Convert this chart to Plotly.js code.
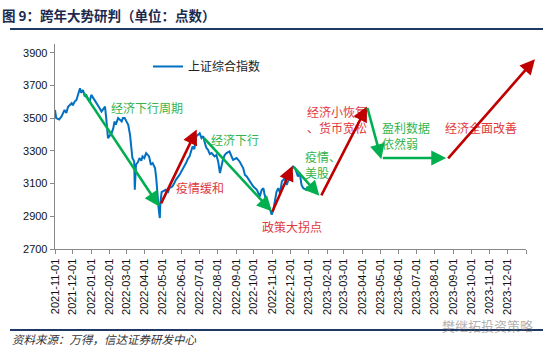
<!DOCTYPE html>
<html>
<head>
<meta charset="utf-8">
<script src="https://cdn.plot.ly/plotly-3.0.1.min.js"></script>
<style>html,body{margin:0;padding:0;background:#fff;}#chart{width:550px;height:350px;}</style>
</head>
<body>
<div id="chart"></div>
<script>
// ---- data ----
const dates = ["2021-11-01","2021-11-03","2021-11-08","2021-11-12","2021-11-17","2021-11-20","2021-11-23","2021-11-29","2021-12-01","2021-12-04","2021-12-07","2021-12-09","2021-12-13","2021-12-15","2021-12-18","2021-12-21","2021-12-23","2021-12-26","2021-12-29","2022-01-01","2022-01-04","2022-01-07","2022-01-10","2022-01-12","2022-01-15","2022-01-18","2022-01-24","2022-01-26","2022-01-29","2022-02-04","2022-02-07","2022-02-09","2022-02-11","2022-02-15","2022-02-18","2022-02-21","2022-02-23","2022-02-26","2022-03-01","2022-03-04","2022-03-07","2022-03-09","2022-03-11","2022-03-14","2022-03-15","2022-03-17","2022-03-20","2022-03-23","2022-03-26","2022-03-28","2022-03-31","2022-04-03","2022-04-06","2022-04-08","2022-04-11","2022-04-14","2022-04-18","2022-04-20","2022-04-24","2022-04-26","2022-04-27","2022-04-29","2022-05-06","2022-05-10","2022-05-12","2022-05-17","2022-05-20","2022-05-23","2022-05-29","2022-06-03","2022-06-06","2022-06-09","2022-06-12","2022-06-15","2022-06-20","2022-06-23","2022-06-26","2022-07-02","2022-07-05","2022-07-08","2022-07-10","2022-07-13","2022-07-16","2022-07-19","2022-07-22","2022-07-27","2022-07-30","2022-08-02","2022-08-05","2022-08-08","2022-08-10","2022-08-13","2022-08-16","2022-08-21","2022-08-24","2022-08-27","2022-09-02","2022-09-07","2022-09-13","2022-09-16","2022-09-19","2022-09-24","2022-09-30","2022-10-06","2022-10-11","2022-10-14","2022-10-17","2022-10-19","2022-10-22","2022-10-25","2022-10-28","2022-10-31","2022-11-03","2022-11-05","2022-11-08","2022-11-11","2022-11-14","2022-11-17","2022-11-22","2022-11-25","2022-11-28","2022-12-01","2022-12-06","2022-12-09","2022-12-14","2022-12-17","2022-12-20","2022-12-23","2022-12-28","2022-12-30"];
const sseIndex = [3550,3500,3492,3510,3550,3532,3570,3591,3578,3601,3611,3640,3683,3655,3672,3632,3645,3622,3600,3642,3625,3611,3595,3581,3560,3540,3570,3500,3378,3408,3440,3479,3460,3500,3490,3479,3500,3500,3480,3459,3398,3317,3256,3235,3062,3215,3230,3256,3240,3266,3255,3286,3272,3266,3215,3225,3195,3133,2950,2889,2981,3047,3062,3050,3072,3082,3100,3123,3153,3184,3200,3225,3250,3266,3326,3310,3388,3408,3378,3390,3357,3320,3306,3280,3286,3266,3275,3235,3164,3220,3245,3275,3286,3296,3270,3245,3256,3235,3195,3153,3143,3113,3082,3062,3021,3060,3072,3031,2991,2975,2940,2909,2945,2981,3050,3072,3042,3113,3133,3092,3120,3174,3204,3195,3143,3165,3092,3072,3062,3082];

const tickDates = ["2021-11-01","2021-12-01","2022-01-01","2022-02-01","2022-03-01","2022-04-01","2022-05-01","2022-06-01","2022-07-01","2022-08-01","2022-09-01","2022-10-01","2022-11-01","2022-12-01","2023-01-01","2023-02-01","2023-03-01","2023-04-01","2023-05-01","2023-06-01","2023-07-01","2023-08-01","2023-09-01","2023-10-01","2023-11-01","2023-12-01"];
const yTicks = [2700,2900,3100,3300,3500,3700,3900];

// arrows (tail -> head), trend: 'down' green, 'up' red
const arrowFromX = ["2021-12-18","2022-04-27","2022-07-07","2022-10-31","2022-12-05","2023-01-21","2023-04-09","2023-05-03","2023-08-21"];
const arrowFromY = [3662,2970,3387,2920,3209,3019,3571,3256,3245];
const arrowToX   = ["2022-04-25","2022-06-27","2022-10-31","2022-12-05","2023-01-19","2023-04-09","2023-05-03","2023-08-20","2024-01-16"];
const arrowToY   = [2960,3430,2930,3209,3025,3571,3249,3256,3860];
const arrowTrend = ["down","up","down","up","down","up","down","down","up"];

const noteTexts = ["经济下行周期","疫情缓和","经济下行","政策大拐点","疫情、<br>美股","经济小恢复<br>、货币宽松","盈利数据<br>依然弱","经济全面改善"];
const noteTrend = ["down","up","down","up","down","up","down","up"];

// ---- styling ----
const GREEN = "#00B050", RED = "#C00000";
const GREEN_TXT = "#34B44E", RED_TXT = "#E0393E";
const notePos = [
  {x:0.1953,y:0.688,xa:"center"},
  {x:0.3068,y:0.2986,xa:"center"},
  {x:0.3832,y:0.5324,xa:"center"},
  {x:0.5032,y:0.1086,xa:"center"},
  {x:0.5265,y:0.413,xa:"left"},
  {x:0.5308,y:0.63,xa:"left"},
  {x:0.690,y:0.554,xa:"left"},
  {x:0.9045,y:0.5906,xa:"center"}
];
const CJK = "'Noto Sans CJK SC', 'Noto Sans', sans-serif";
const NUM = "'Liberation Sans', Arial, sans-serif";

const annotations = [];
noteTexts.forEach((t,i)=>{
  annotations.push({
    xref:"paper", yref:"paper", x:notePos[i].x, y:notePos[i].y,
    xanchor:notePos[i].xa, yanchor:"middle", align:"left",
    text:t, showarrow:false,
    font:{family:CJK, size:12, color: noteTrend[i]==="up"?RED_TXT:GREEN_TXT}
  });
});
arrowFromX.forEach((_,i)=>{
  const c = arrowTrend[i]==="up"?RED:GREEN;
  annotations.push({
    xref:"x", yref:"y", axref:"x", ayref:"y",
    x:arrowToX[i], y:arrowToY[i], ax:arrowFromX[i], ay:arrowFromY[i],
    text:"", showarrow:true, arrowhead:2, arrowsize:1.15, arrowwidth:2.6,
    arrowcolor:c, standoff:0, startstandoff:0
  });
});
// title, source, watermark
annotations.push({xref:"paper",yref:"paper",x:-55/471,y:(249.3-15)/205.3,xanchor:"left",yanchor:"middle",
  text:"<b>图 9：跨年大势研判（单位：点数）</b>",showarrow:false,
  font:{family:CJK,size:13.5,color:"#1B2A4E"}});
annotations.push({xref:"paper",yref:"paper",x:-45/471,y:(249.3-339)/205.3,xanchor:"left",yanchor:"middle",
  text:"<i>资料来源：万得，信达证券研发中心</i>",showarrow:false,
  font:{family:CJK,size:11.5,color:"#333"}});
annotations.push({xref:"paper",yref:"paper",x:(487-55)/471,y:(249.3-326)/205.3,xanchor:"center",yanchor:"middle",
  text:"樊继拓投资策略",showarrow:false,
  font:{family:CJK,size:13,color:"rgba(110,110,110,0.55)"}});

const shapes = [
  {type:"line",xref:"paper",yref:"paper",x0:-45/471,x1:(543-55)/471,y0:(249.3-29)/205.3,y1:(249.3-29)/205.3,line:{color:"#1F3864",width:2}},
  {type:"line",xref:"paper",yref:"paper",x0:-45/471,x1:(543-55)/471,y0:(249.3-330.5)/205.3,y1:(249.3-330.5)/205.3,line:{color:"#1F3864",width:2}}
];

const trace = {
  x:dates, y:sseIndex, type:"scatter", mode:"lines", name:"上证综合指数",
  line:{color:"#0070C0", width:2}
};

const layout = {
  width:550, height:350,
  margin:{l:55, r:24, t:44, b:101, pad:0},
  paper_bgcolor:"#fff", plot_bgcolor:"#fff",
  showlegend:true,
  legend:{x:(148-55)/471, y:1-(52-44)/205.3, xanchor:"left", yanchor:"top", bgcolor:"rgba(0,0,0,0)",
    font:{family:CJK,size:12,color:"#222"}},
  xaxis:{type:"date", range:["2021-11-01","2024-01-01"], tickvals:tickDates.concat(["2024-01-01"]),
    ticktext:tickDates.concat([""]), tickangle:-90,
    showgrid:false, zeroline:false, showline:true, linecolor:"#888", linewidth:1.3,
    ticks:"outside", ticklen:4, tickcolor:"#888",
    tickfont:{family:NUM,size:11,color:"#111"}},
  yaxis:{range:[2700,3953], tickvals:yTicks, showgrid:false, zeroline:false,
    showline:true, linecolor:"#888", linewidth:1.3, ticks:"outside", ticklen:4, tickcolor:"#888",
    tickfont:{family:NUM,size:11,color:"#111"}},
  annotations:annotations, shapes:shapes
};
Plotly.newPlot("chart",[trace],layout,{displayModeBar:false, staticPlot:true});
</script>
</body>
</html>
